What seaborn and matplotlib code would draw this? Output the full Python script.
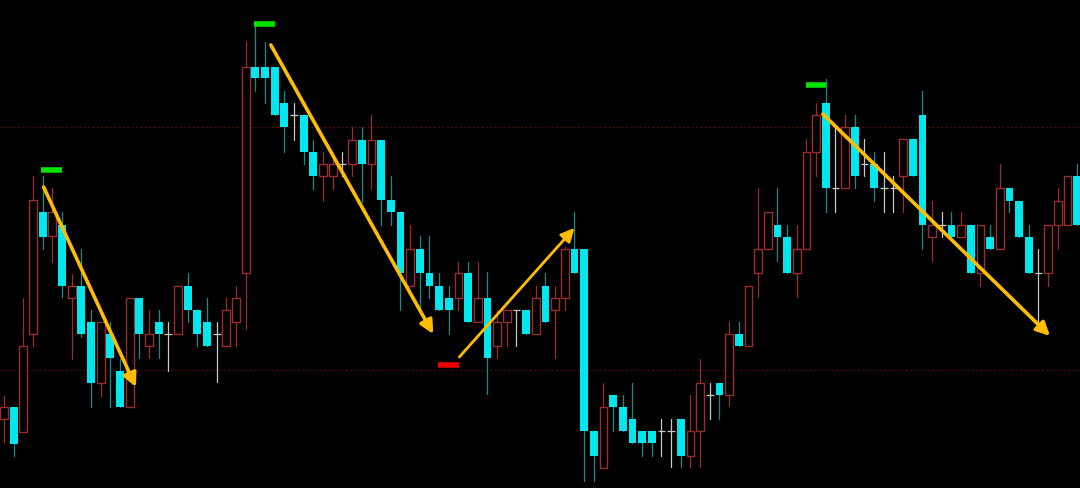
import numpy as np
import pandas as pd
import matplotlib
matplotlib.use('Agg')
import matplotlib.pyplot as plt
import seaborn as sns

# candle prices (arbitrary price units)
opens = [80, 92, 67, 165, 287, 263, 274, 201, 213, 177, 116, 165, 128, 92, 201, 153, 177, 165, 165, 213,
         189, 177, 165, 153, 177, 226, 432, 432, 432, 396, 384, 384, 347, 323, 323, 335, 335, 359, 335, 359,
         299, 287, 213, 250, 226, 213, 201, 201, 226, 177, 201, 153, 177, 189, 189, 165, 213, 189, 201, 250,
         250, 68, 31, 104, 92, 80, 68, 68, 68, 68, 80, 43, 68, 104, 116, 104, 165, 153, 226, 250,
         274, 262, 226, 250, 347, 396, 311, 311, 372, 335, 335, 311, 311, 323, 360, 384, 262, 274, 274, 262,
         274, 226, 262, 250, 311, 298, 262, 226, 226, 274, 274, 323]
highs = [103, 92, 201, 323, 323, 311, 287, 225, 250, 189, 177, 177, 140, 201, 201, 189, 189, 177, 213, 226,
         189, 201, 177, 201, 213, 457, 477, 457, 432, 408, 396, 384, 359, 347, 347, 347, 372, 372, 384, 359,
         323, 287, 274, 263, 263, 226, 213, 237, 237, 237, 227, 189, 189, 189, 189, 213, 226, 213, 252, 287,
         250, 68, 116, 104, 104, 116, 68, 68, 80, 80, 80, 104, 140, 116, 116, 177, 177, 213, 311, 287,
         311, 274, 274, 360, 396, 420, 372, 384, 384, 360, 347, 347, 323, 360, 360, 408, 298, 287, 287, 287,
         274, 274, 274, 335, 311, 298, 274, 250, 274, 311, 323, 335]
lows = [57, 43, 67, 153, 250, 237, 202, 140, 162, 92, 103, 92, 92, 92, 141, 141, 141, 128, 165, 177,
        153, 153, 117, 153, 153, 170, 408, 396, 384, 347, 359, 335, 310, 298, 310, 323, 323, 297, 310, 274,
        274, 189, 213, 189, 201, 189, 165, 189, 177, 177, 105, 141, 153, 153, 165, 165, 177, 141, 189, 226,
        18, 18, 31, 68, 68, 56, 43, 43, 43, 32, 32, 32, 32, 80, 80, 93, 153, 153, 202, 250,
        238, 226, 202, 250, 323, 287, 287, 311, 311, 323, 298, 287, 287, 287, 323, 250, 238, 262, 262, 262,
        226, 213, 250, 250, 287, 262, 226, 177, 213, 250, 274, 274]
closes = [92, 55, 153, 299, 262, 287, 213, 213, 165, 116, 177, 141, 92, 201, 165, 165, 165, 165, 213, 189,
          165, 153, 165, 189, 201, 432, 421, 421, 384, 372, 384, 347, 323, 335, 335, 335, 359, 335, 359, 299,
          287, 226, 250, 226, 213, 189, 189, 226, 177, 201, 141, 177, 189, 189, 165, 201, 177, 201, 250, 226,
          68, 43, 92, 92, 68, 56, 56, 56, 68, 68, 43, 68, 116, 104, 104, 165, 153, 213, 250, 287,
          262, 226, 250, 347, 384, 311, 311, 372, 323, 335, 311, 311, 311, 360, 323, 274, 274, 274, 262, 274,
          226, 274, 250, 311, 298, 262, 226, 226, 274, 298, 323, 274]

# trend arrows: (start idx, start price, end idx, end price)
arrow_x0 = [4.1, 27.6, 47.1, 84.7]
arrow_y0 = [312, 454, 142, 385]
arrow_x1 = [13.65, 44.4, 59.0, 108.2]
arrow_y1 = [112, 165, 271, 163]
arrow_lw = [2.6, 2.6, 2.0, 2.6]

# signal markers
marker_x0 = [3.85, 25.9, 83.0, 44.9]
marker_x1 = [6.0, 28.0, 85.0, 47.1]
marker_y = [329, 475, 414, 134]
marker_col = ['#00e400', '#00e400', '#00e400', '#ee0000']

level_lines = [372, 129]

RED = '#9a2c2c'
CYAN = '#00e8ef'
CYAN_WICK = '#138c8c'
DOJI = '#c8c8c8'

n = len(opens)
idx = np.arange(n)
o = np.array(opens); c = np.array(closes); h = np.array(highs); l = np.array(lows)
kind = np.where(c > o, 'up', np.where(c < o, 'down', 'doji'))

sns.set_style('dark', {'axes.facecolor': 'black', 'figure.facecolor': 'black'})
fig = plt.figure(figsize=(10.8, 4.89), dpi=100)
ax = fig.add_axes([0, 0, 1, 1])
ax.set_facecolor('black')

for yv in level_lines:
    ax.axhline(yv, color='#5a0c0c', lw=0.9, ls=(0, (1.5, 2)), zorder=0)

# wicks through seaborn, one unit per candle
wick = pd.DataFrame({'idx': np.repeat(idx, 2),
                     'price': np.column_stack([l, h]).ravel(),
                     'kind': np.repeat(kind, 2)})
sns.lineplot(data=wick, x='idx', y='price', units='idx', estimator=None, hue='kind',
             palette={'up': RED, 'down': CYAN_WICK, 'doji': DOJI}, legend=False,
             linewidth=0.9, sort=False, ax=ax, zorder=1)

up = kind == 'up'
down = kind == 'down'
dj = kind == 'doji'
ax.bar(idx[up], (c - o)[up], bottom=o[up], width=0.8, facecolor='black', edgecolor=RED, linewidth=1.0, zorder=2)
ax.bar(idx[down], (o - c)[down], bottom=c[down], width=0.8, color=CYAN, linewidth=0, zorder=2)
ax.hlines(o[dj], idx[dj] - 0.4, idx[dj] + 0.4, color=DOJI, lw=0.9, zorder=2)

for x0, x1, yv, col in zip(marker_x0, marker_x1, marker_y, marker_col):
    ax.plot([x0, x1], [yv, yv], color=col, lw=4, solid_capstyle='butt', zorder=3)

for x0, y0, x1, y1, lw in zip(arrow_x0, arrow_y0, arrow_x1, arrow_y1, arrow_lw):
    ax.annotate('', xy=(x1, y1), xytext=(x0, y0),
                arrowprops=dict(arrowstyle='-|>', color='#ffbd00', lw=lw, mutation_scale=20,
                                shrinkA=0, shrinkB=0), zorder=4)

ax.set_xlim(-0.414, 111.3)
ax.set_ylim(11, 500)
ax.set_axis_off()
fig.savefig('out.png', dpi=100, facecolor='black')
